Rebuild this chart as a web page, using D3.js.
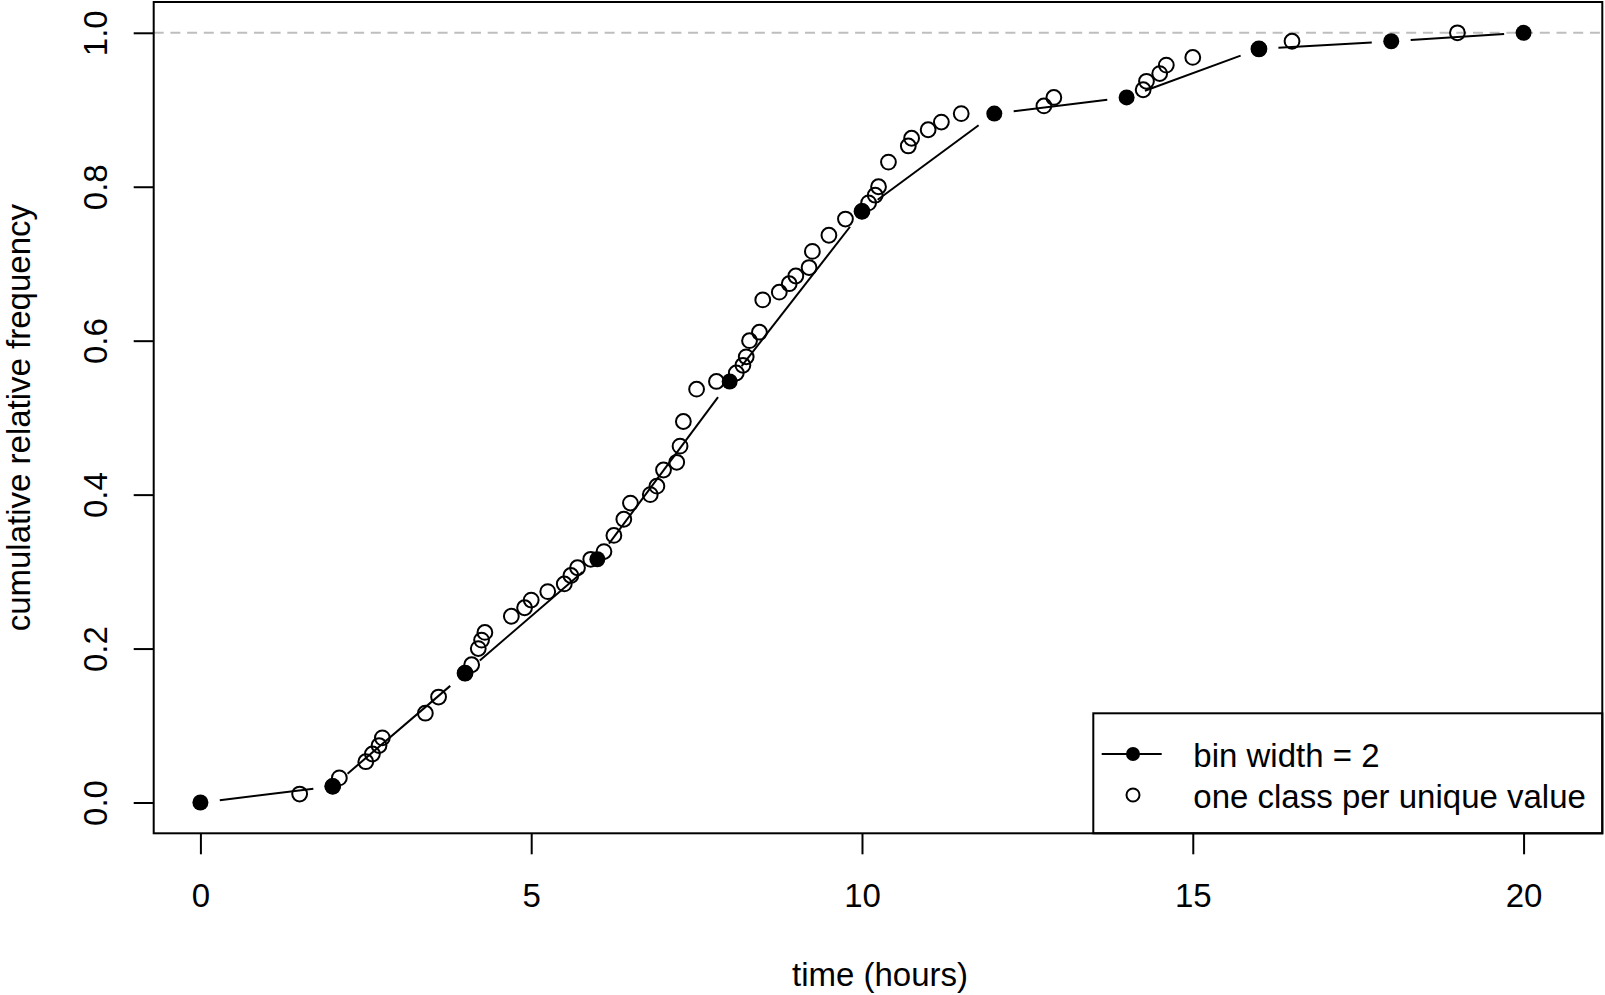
<!DOCTYPE html>
<html>
<head>
<meta charset="utf-8">
<script src="https://cdn.jsdelivr.net/npm/d3@7"></script>
<style>
  html, body { margin: 0; padding: 0; background: #fff; }
  svg { display: block; }
  text { font-family: "Liberation Sans", Arial, Helvetica, sans-serif; fill: #000; }
</style>
</head>
<body>
<svg id="chart" width="1605" height="995"></svg>
<script>
// ---- data ----
const binX = [0, 2, 4, 6, 8, 10, 12, 14, 16, 18, 20];
const binY = [0, 0.021, 0.168, 0.316, 0.547, 0.768, 0.895, 0.916, 0.979, 0.989, 1.0];

const uniqX = [1.5, 2.0, 2.1, 2.5, 2.6, 2.7, 2.75, 3.4, 3.6, 4.0, 4.1, 4.2, 4.25, 4.3, 4.7, 4.9, 5.0,
  5.25, 5.5, 5.6, 5.7, 5.9, 6.1, 6.25, 6.4, 6.5, 6.8, 6.9, 7.0, 7.2, 7.25, 7.3, 7.5, 7.8,
  8.1, 8.2, 8.25, 8.3, 8.45, 8.5, 8.75, 8.9, 9.0, 9.2, 9.25, 9.5, 9.75, 10.0, 10.1, 10.2, 10.25,
  10.4, 10.7, 10.75, 11.0, 11.2, 11.5, 12.75, 12.9, 14.25, 14.3, 14.5, 14.6, 15.0, 16.0, 16.5, 19.0];
const uniqY = [0.011, 0.021, 0.032, 0.053, 0.063, 0.074, 0.084, 0.116, 0.137, 0.168, 0.179, 0.200, 0.211, 0.221, 0.242, 0.253, 0.263,
  0.274, 0.284, 0.295, 0.305, 0.316, 0.326, 0.347, 0.368, 0.389, 0.400, 0.411, 0.432, 0.442, 0.463, 0.495, 0.537, 0.547,
  0.558, 0.568, 0.579, 0.600, 0.611, 0.653, 0.663, 0.674, 0.684, 0.695, 0.716, 0.737, 0.758, 0.768, 0.779, 0.789, 0.800,
  0.832, 0.853, 0.863, 0.874, 0.884, 0.895, 0.905, 0.916, 0.926, 0.937, 0.947, 0.958, 0.968, 0.979, 0.989, 1.0];

const xTicks = [0, 5, 10, 15, 20];
const yTicks = [0, 0.2, 0.4, 0.6, 0.8, 1.0];
const xTitle = "time (hours)";
const yTitle = "cumulative relative frequency";
const legendLabels = ["bin width = 2", "one class per unique value"];
const refLine = 1.0;

// ---- layout ----
const L = 153.7, R = 1602.3, T = 2.0, B = 833.3;
const FS = 33;

const svg = d3.select("#chart");
const x = d3.scaleLinear().domain([-0.706, 21.19]).range([L, R]);
const y = d3.scaleLinear().domain([-0.04, 1.04]).range([B, T]);

// reference dashed line
svg.append("line")
  .attr("x1", L).attr("x2", R)
  .attr("y1", y(refLine)).attr("y2", y(refLine))
  .attr("stroke", "#bebebe").attr("stroke-width", 2)
  .attr("stroke-dasharray", "10,6.7");

// x axis
const gx = svg.append("g").attr("transform", `translate(0,${B})`)
  .call(d3.axisBottom(x).tickValues(xTicks).tickSize(21).tickFormat(d3.format("d")));
gx.select(".domain").remove();
gx.selectAll(".tick line").attr("stroke", "#000").attr("stroke-width", 2);
gx.selectAll(".tick text").attr("y", 907 - B).attr("dy", null)
  .attr("font-size", FS).attr("font-family", null).attr("fill", "#000");

// y axis
const gy = svg.append("g").attr("transform", `translate(${L},0)`)
  .call(d3.axisLeft(y).tickValues(yTicks).tickSize(20).tickFormat(d3.format(".1f")));
gy.select(".domain").remove();
gy.selectAll(".tick line").attr("stroke", "#000").attr("stroke-width", 2);
gy.selectAll(".tick text")
  .attr("x", null).attr("dy", null)
  .attr("text-anchor", "middle")
  .attr("transform", `translate(${107 - L},0) rotate(-90)`)
  .attr("font-size", FS).attr("font-family", null).attr("fill", "#000");

// axis titles
svg.append("text").attr("x", (L + R) / 2 + 2).attr("y", 986)
  .attr("text-anchor", "middle").attr("font-size", FS).text(xTitle);
svg.append("text").attr("transform", `translate(30,${(T + B) / 2}) rotate(-90)`)
  .attr("text-anchor", "middle").attr("font-size", FS).text(yTitle);

// bin series: type "b" lines with gaps around points
const GAP = 19.5;
const segs = [];
for (let i = 0; i < binX.length - 1; i++) {
  const x1 = x(binX[i]), y1 = y(binY[i]), x2 = x(binX[i + 1]), y2 = y(binY[i + 1]);
  const dx = x2 - x1, dy = y2 - y1, len = Math.hypot(dx, dy);
  if (len > 2 * GAP) {
    const ux = dx / len, uy = dy / len;
    segs.push([x1 + ux * GAP, y1 + uy * GAP, x2 - ux * GAP, y2 - uy * GAP]);
  }
}
svg.append("g").selectAll("line").data(segs).join("line")
  .attr("x1", d => d[0]).attr("y1", d => d[1])
  .attr("x2", d => d[2]).attr("y2", d => d[3])
  .attr("stroke", "#000").attr("stroke-width", 2);

// open circles (one class per unique value)
svg.append("g").selectAll("circle").data(uniqX.map((v, i) => [v, uniqY[i]])).join("circle")
  .attr("cx", d => x(d[0])).attr("cy", d => y(d[1])).attr("r", 7.4)
  .attr("fill", "none").attr("stroke", "#000").attr("stroke-width", 2);

// filled points (bin width = 2)
svg.append("g").selectAll("circle").data(binX.map((v, i) => [v, binY[i]])).join("circle")
  .attr("cx", d => x(d[0])).attr("cy", d => y(d[1])).attr("r", 8)
  .attr("fill", "#000");

// legend
const lgX = 1093.3, lgY = 713.3;
svg.append("rect").attr("x", lgX).attr("y", lgY).attr("width", R - lgX).attr("height", B - lgY)
  .attr("fill", "#fff").attr("stroke", "#000").attr("stroke-width", 2);
svg.append("line").attr("x1", 1101.7).attr("x2", 1161.7).attr("y1", 754).attr("y2", 754)
  .attr("stroke", "#000").attr("stroke-width", 2);
svg.append("circle").attr("cx", 1133).attr("cy", 754).attr("r", 7).attr("fill", "#000");
svg.append("circle").attr("cx", 1133).attr("cy", 795).attr("r", 6.5)
  .attr("fill", "none").attr("stroke", "#000").attr("stroke-width", 2);
svg.append("g").selectAll("text").data(legendLabels).join("text")
  .attr("x", 1193.3).attr("y", (d, i) => 767 + i * 41)
  .attr("font-size", FS).text(d => d);

// plot box
svg.append("rect").attr("x", L).attr("y", T).attr("width", R - L).attr("height", B - T)
  .attr("fill", "none").attr("stroke", "#000").attr("stroke-width", 2);
</script>
</body>
</html>
